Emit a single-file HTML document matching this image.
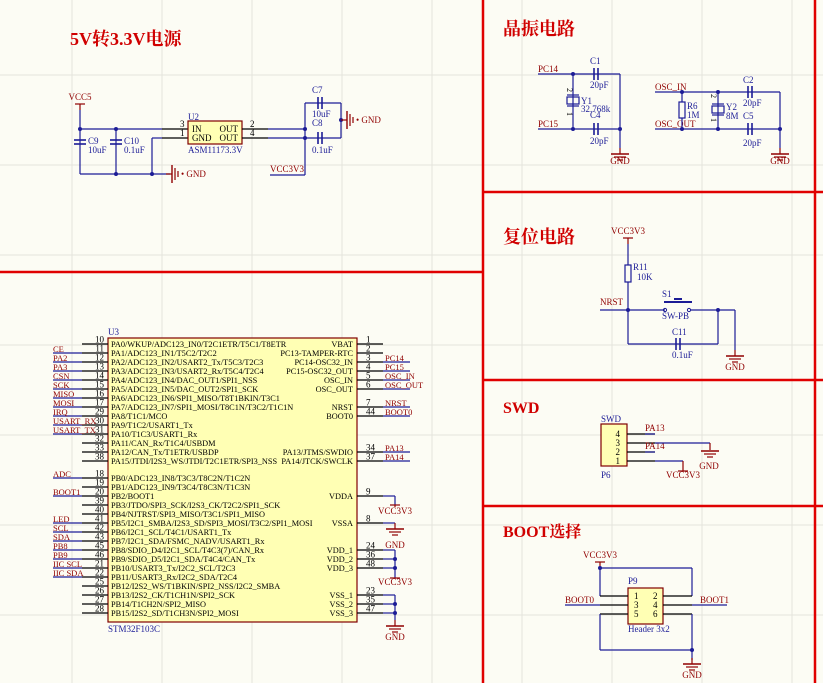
<!DOCTYPE html>
<html><head><meta charset="utf-8"><style>
html,body{margin:0;padding:0;background:#fcfcf4}
svg{display:block}
</style></head><body>
<svg id="s" width="823" height="683" xmlns="http://www.w3.org/2000/svg" font-family="Liberation Serif, serif"></svg>
<script>
var o=[];var B="#1c1c96",R="#900000",K="#000";
function L(a,b,c,d,col,w){o.push('<line x1="'+a+'" y1="'+b+'" x2="'+c+'" y2="'+d+'" stroke="'+(col||B)+'" stroke-width="'+(w||1.2)+'"/>');}
function T(x,y,t,col,sz,anc,ex){o.push('<text x="'+x+'" y="'+y+'" fill="'+(col||B)+'" font-size="'+(sz||9)+'" text-anchor="'+(anc||"start")+'" '+(ex||"")+'>'+t+'</text>');}
function D(x,y){o.push('<circle cx="'+x+'" cy="'+y+'" r="2" fill="'+B+'"/>');}
function G(x,y,lab){L(x,y,x,y+6,R);L(x-9,y+6,x+9,y+6,R,1.4);L(x-6,y+9,x+6,y+9,R);L(x-3,y+12,x+3,y+12,R);if(lab!==false)T(x,y+24,"GND",R,9,"middle");}
function GR(x,y,lab){L(x,y,x+6,y,R);L(x+6,y-9,x+6,y+9,R,1.4);L(x+9,y-6,x+9,y+6,R);L(x+12,y-3,x+12,y+3,R);T(x+15,y+3,"• GND",R,9);}
function V(x,y,lab){L(x-5,y,x+5,y,R);L(x,y,x,y+6,R);T(x,y-4,lab,R,9,"middle");}
function CH(x,y){L(x-2,y-6,x-2,y+6,B,1.6);L(x+2,y-6,x+2,y+6,B,1.6);}
function CV(x,y){L(x-6,y-2,x+6,y-2,B,1.6);L(x-6,y+2,x+6,y+2,B,1.6);}
function R_(x,y,w,h,f,s){o.push('<rect x="'+x+'" y="'+y+'" width="'+w+'" height="'+h+'" fill="'+(f||"none")+'" stroke="'+(s||B)+'" stroke-width="1.2"/>');}
// grid
for(var gx=72;gx<823;gx+=90)L(gx,0,gx,683,"#e4e4dc",1);
for(var gy=75;gy<683;gy+=90)L(0,gy,823,gy,"#e4e4dc",1);
// borders
var RD="#e00000";
L(0,272,483,272,RD,2.5);L(483,0,483,683,RD,2.5);L(815,0,815,683,RD,2.5);
L(483,192,823,192,RD,2.5);L(483,380,823,380,RD,2.5);L(483,506,823,506,RD,2.5);
var TS='font-weight="bold" font-family="Liberation Serif, Noto Serif CJK SC, serif"';
T(70,45,"5V转3.3V电源","#d00000",18,"start",TS);
T(503,35,"晶振电路","#d00000",18,"start",TS);
T(503,243,"复位电路","#d00000",18,"start",TS);
T(503,413,"SWD","#d00000",16,"start",TS);
T(503,537,"BOOT选择","#d00000",16,"start",TS);
// ===== power
V(80,104,"VCC5");L(80,110,80,174);D(80,129);L(80,129,162,129);D(116,129);
CV(80,142);CV(116,142);L(116,129,116,174);D(116,174);
T(88,144,"C9");T(88,153,"10uF");T(124,144,"C10");T(124,153,"0.1uF");
L(80,174,170,174);D(152,174);L(152,138,152,174);L(152,138,162,138);
L(170,174,170,174);GR(166,174);
L(162,129,188,129,K);L(162,138,188,138,K);T(180,127,"3",K);T(180,136,"1",K);
R_(188,121,54,23,"#ffffb4","#800000");
T(192,132,"IN",K);T(192,141,"GND",K);T(238,132,"OUT",K,9,"end");T(238,141,"OUT",K,9,"end");
T(188,120,"U2");T(188,153,"ASM11173.3V");
L(242,129,268,129,K);L(242,138,268,138,K);T(250,127,"2",K);T(250,136,"4",K);
L(268,129,305,129);L(268,138,305,138);
L(305,103,305,175);D(305,129);D(305,138);
L(305,103,341,103);L(305,138,341,138);CH(320,103);CH(320,138);L(341,103,341,138);D(341,120);
GR(341,120);
T(312,93,"C7");T(312,117,"10uF");T(312,126,"C8");T(312,153,"0.1uF");
L(270,175,305,175);T(270,172,"VCC3V3",R);
// ===== U3
R_(108,338,249,284,"#ffffb4","#800000");
T(108,335,"U3");T(108,632,"STM32F103C");
var la=["PA0/WKUP/ADC123_IN0/T2C1ETR/T5C1/T8ETR","PA1/ADC123_IN1/T5C2/T2C2","PA2/ADC123_IN2/USART2_Tx/T5C3/T2C3","PA3/ADC123_IN3/USART2_Rx/T5C4/T2C4","PA4/ADC123_IN4/DAC_OUT1/SPI1_NSS","PA5/ADC123_IN5/DAC_OUT2/SPI1_SCK","PA6/ADC123_IN6/SPI1_MISO/T8T1BKIN/T3C1","PA7/ADC123_IN7/SPI1_MOSI/T8C1N/T3C2/T1C1N","PA8/T1C1/MCO","PA9/T1C2/USART1_Tx","PA10/T1C3/USART1_Rx","PA11/CAN_Rx/T1C4/USBDM","PA12/CAN_Tx/T1ETR/USBDP","PA15/JTDI/I2S3_WS/JTDI/T2C1ETR/SPI3_NSS"];
var ln=[10,11,12,13,14,15,16,17,29,30,31,32,33,38];
var ll=["","CE","PA2","PA3","CSN","SCK","MISO","MOSI","IRQ","USART_RX","USART_TX","","",""];
var pb=["PB0/ADC123_IN8/T3C3/T8C2N/T1C2N","PB1/ADC123_IN9/T3C4/T8C3N/T1C3N","PB2/BOOT1","PB3/JTDO/SPI3_SCK/I2S3_CK/T2C2/SPI1_SCK","PB4/NJTRST/SPI3_MISO/T3C1/SPI1_MISO","PB5/I2C1_SMBA/I2S3_SD/SPI3_MOSI/T3C2/SPI1_MOSI","PB6/I2C1_SCL/T4C1/USART1_Tx","PB7/I2C1_SDA/FSMC_NADV/USART1_Rx","PB8/SDIO_D4/I2C1_SCL/T4C3(7)/CAN_Rx","PB9/SDIO_D5/I2C1_SDA/T4C4/CAN_Tx","PB10/USART3_Tx/I2C2_SCL/T2C3","PB11/USART3_Rx/I2C2_SDA/T2C4","PB12/I2S2_WS/T1BKIN/SPI2_NSS/I2C2_SMBA","PB13/I2S2_CK/T1CH1N/SPI2_SCK","PB14/T1CH2N/SPI2_MISO","PB15/I2S2_SD/T1CH3N/SPI2_MOSI"];
var pn=[18,19,20,39,40,41,42,43,45,46,21,22,25,26,27,28];
var pl=["ADC","","BOOT1","","","LED","SCL","SDA","PB8","PB9","IIC SCL","IIC SDA","","","",""];
function left(y,txt,num,lab){L(82,y,108,y,K);T(104,y-1.5,num,K,9,"end");T(111,y+3,txt,K,8.3);if(lab){L(53,y,82,y);T(53,y-1,lab,R,8.5);}}
for(var i=0;i<14;i++)left(344+9*i,la[i],ln[i],ll[i]);
for(var i=0;i<16;i++)left(478+9*i,pb[i],pn[i],pl[i]);
function right(y,txt,num,lab){L(357,y,383,y,K);T(366,y-1.5,num,K);T(353,y+3,txt,K,8.3,"end");if(lab){L(383,y,410,y);T(385,y-1,lab,R,8.5);}}
right(344,"VBAT",1);right(353,"PC13-TAMPER-RTC",2);right(362,"PC14-OSC32_IN",3,"PC14");right(371,"PC15-OSC32_OUT",4,"PC15");
right(380,"OSC_IN",5,"OSC_IN");right(389,"OSC_OUT",6,"OSC_OUT");right(407,"NRST",7,"NRST");right(416,"BOOT0",44,"BOOT0");
right(452,"PA13/JTMS/SWDIO",34,"PA13");right(461,"PA14/JTCK/SWCLK",37,"PA14");
right(496,"VDDA",9);right(523,"VSSA",8);right(550,"VDD_1",24);right(559,"VDD_2",36);right(568,"VDD_3",48);
right(595,"VSS_1",23);right(604,"VSS_2",35);right(613,"VSS_3",47);
L(383,496,395,496);L(395,496,395,505);L(390,505,400,505,R);L(395,505,395,507,R);T(395,514,"VCC3V3",R,9,"middle");
L(383,523,395,523);G(395,523,false);T(395,548,"GND",R,9,"middle");
L(383,550,395,550);L(383,559,395,559);L(383,568,395,568);L(395,550,395,578);D(395,559);D(395,568);
L(390,578,400,578,R);T(395,585,"VCC3V3",R,9,"middle");
L(383,595,395,595);L(383,604,395,604);L(383,613,395,613);L(395,595,395,620);D(395,604);D(395,613);G(395,620,false);T(395,640,"GND",R,9,"middle");
// ===== crystal
L(538,74,620,74);T(538,72,"PC14",R);D(573,74);CH(596,74);T(590,64,"C1");T(590,88,"20pF");
L(538,129,620,129);T(538,127,"PC15",R);D(573,129);CH(596,129);T(590,118,"C4");T(590,144,"20pF");
L(573,74,573,129);R_(567,97,12,7,"none");L(567,95,579,95);L(567,106,579,106);
T(567,90,"2",K,8,"middle",'transform="rotate(90 567 90)"');T(567,114,"1",K,8,"middle",'transform="rotate(90 567 114)"');
T(581,104,"Y1");T(581,112,"32.768k");
L(620,74,620,148);D(620,129);G(620,148,false);T(620,164,"GND",R,9,"middle");
L(655,92,780,92);T(655,90,"OSC_IN",R);L(655,129,780,129);T(655,127,"OSC_OUT",R);
D(682,92);D(682,129);D(718,92);D(718,129);L(682,92,682,129);R_(679,102,6,16,"#fcfcf4");
T(687,109,"R6");T(687,118,"1M");
L(718,92,718,129);R_(712,106,12,7,"none");L(712,104,724,104);L(712,115,724,115);
T(711,96,"2",K,8,"middle",'transform="rotate(90 711 96)"');T(711,120,"1",K,8,"middle",'transform="rotate(90 711 120)"');
T(726,110,"Y2");T(726,119,"8M");
CH(750,92);CH(750,129);T(743,83,"C2");T(743,106,"20pF");T(743,119,"C5");T(743,146,"20pF");
L(780,92,780,148);D(780,129);G(780,148,false);T(780,164,"GND",R,9,"middle");
// ===== reset
V(628,238,"VCC3V3");L(628,244,628,344);R_(625,265,6,17,"#fcfcf4");T(633,270,"R11");T(637,280,"10K");
L(600,310,665,310);T(600,305,"NRST",R);D(628,310);
o.push('<circle cx="665" cy="310" r="1.6" fill="none" stroke="'+B+'"/><circle cx="689" cy="310" r="1.6" fill="none" stroke="'+B+'"/>');
L(664,302,692,302,B,2);L(674,299,682,299,B,2);T(662,297,"S1");T(662,319,"SW-PB");
L(691,310,735,310);D(718,310);L(735,310,735,350);G(735,350,false);T(735,370,"GND",R,9,"middle");
L(628,344,718,344);L(718,310,718,344);CH(678,344);T(672,335,"C11");T(672,358,"0.1uF");
// ===== SWD
T(601,422,"SWD");T(601,478,"P6");R_(601,424,26,42,"#ffffb4","#800000");
[[434,4],[443,3],[452,2],[461,1]].forEach(function(p){L(627,p[0],655,p[0],K);T(620,p[0]+3,p[1],K,9,"end");});
L(645,434,655,434);T(645,431,"PA13",R);L(645,452,655,452);T(645,449,"PA14",R);
L(655,443,710,443);L(710,443,710,450,R);L(701,451,719,451,R,1.4);L(704,454,716,454,R);L(707,457,713,457,R);T(709,469,"GND",R,9,"middle");
L(655,461,683,461);L(683,461,683,471,R);L(678,471,688,471,R);T(683,478,"VCC3V3",R,9,"middle");
// ===== BOOT
V(600,562,"VCC3V3");L(600,568,600,596);D(600,568);L(600,568,692,568);L(692,568,692,596);
R_(628,588,35,36,"#ffffb4","#800000");T(628,584,"P9");T(628,632,"Header 3x2");
[[596,1,2],[605,3,4],[614,5,6]].forEach(function(p){L(600,p[0],628,p[0],K);L(663,p[0],692,p[0],K);T(634,p[0]+3,p[1],K);T(653,p[0]+3,p[2],K);});
L(565,605,600,605);T(565,603,"BOOT0",R);L(692,605,727,605);T(700,603,"BOOT1",R);
L(600,614,600,650);L(600,650,692,650);L(692,614,692,660);D(692,650);G(692,658,false);T(692,678,"GND",R,9,"middle");
document.getElementById("s").innerHTML=o.join("");
</script>
</body></html>
